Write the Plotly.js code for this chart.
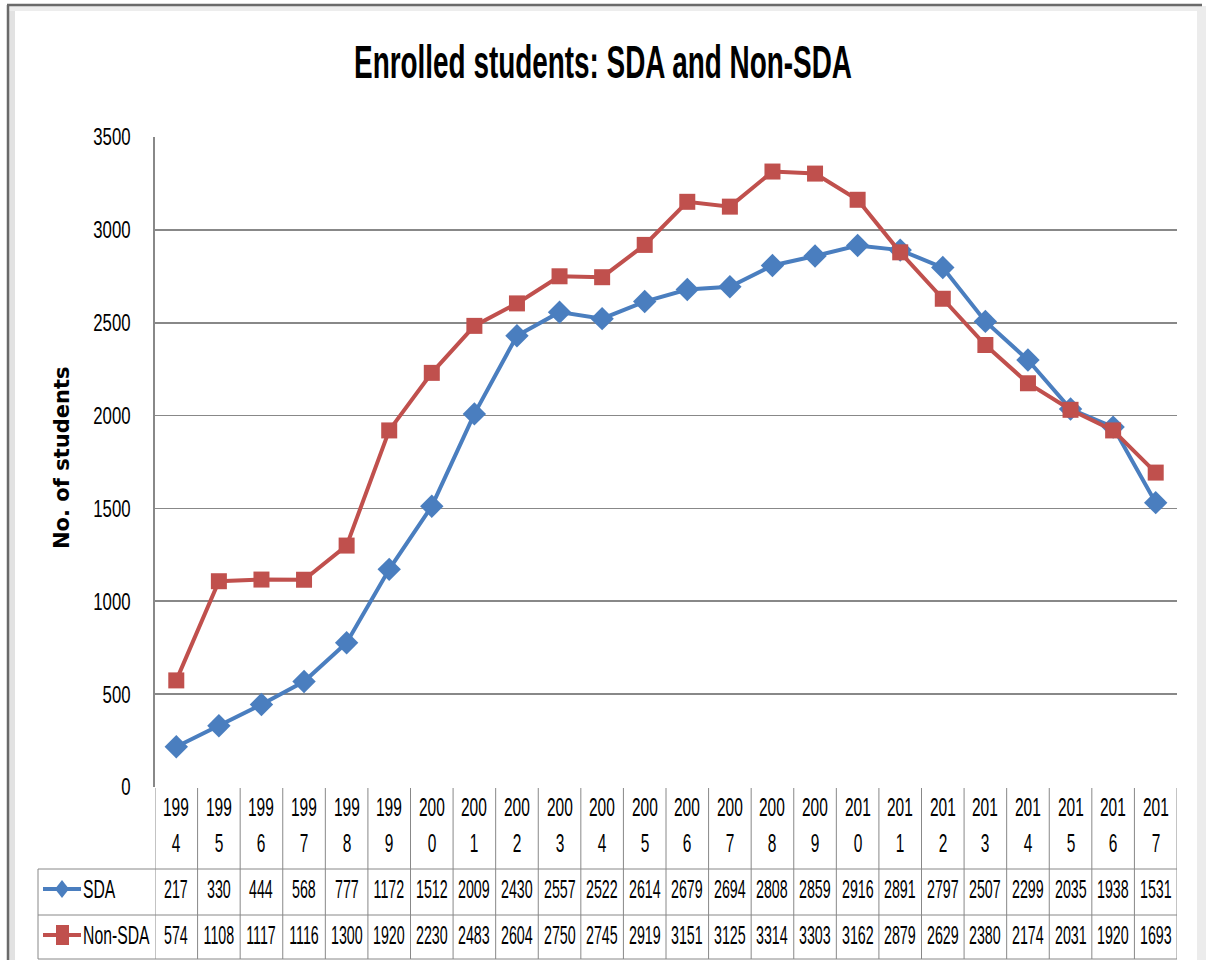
<!DOCTYPE html>
<html>
<head>
<meta charset="utf-8">
<script src="https://cdn.plot.ly/plotly-3.0.1.min.js"></script>
<style>html,body{margin:0;padding:0;background:#fff;}#chart{width:1206px;height:960px;}</style>
</head>
<body>
<div id="chart"></div>
<script>
const years = ["1994","1995","1996","1997","1998","1999","2000","2001","2002","2003","2004","2005","2006","2007","2008","2009","2010","2011","2012","2013","2014","2015","2016","2017"];
const sda = [217,330,444,568,777,1172,1512,2009,2430,2557,2522,2614,2679,2694,2808,2859,2916,2891,2797,2507,2299,2035,1938,1531];
const nonSda = [574,1108,1117,1116,1300,1920,2230,2483,2604,2750,2745,2919,3151,3125,3314,3303,3162,2879,2629,2380,2174,2031,1920,1693];
const seriesNames = ["SDA","Non-SDA"];
const yTicks = [0,500,1000,1500,2000,2500,3000,3500];
const chartTitle = "Enrolled students: SDA and Non-SDA";
const yTitle = "No. of students";

const W = 1206, H = 960;
const M = {l:155, r:29, t:137, b:173};
const PW = W - M.l - M.r, PH = H - M.t - M.b;
const px2x = px => (px - M.l) / PW;
const py2y = py => (H - M.b - py) / PH;

const blue = "#4A7EBF", red = "#C0504D";
const grid = "#888888";
const sans = "Liberation Sans, Arial, sans-serif";
const idx = years.map((_, i) => i);

const traces = [
  {x: idx, y: sda, name: seriesNames[0], type: "scatter", mode: "lines+markers",
   line: {color: blue, width: 4}, marker: {symbol: "diamond", size: 18, color: blue}},
  {x: idx, y: nonSda, name: seriesNames[1], type: "scatter", mode: "lines+markers",
   line: {color: red, width: 4}, marker: {symbol: "square", size: 16, color: red}}
];

const shapes = [];
const annotations = [];
const yHeadTop = py2y(788), yRow1 = py2y(869), yRow2 = py2y(915), yBot = py2y(959);
const xLeft = px2x(38);
for (let i = 0; i <= years.length; i++) {
  shapes.push({type: "line", xref: "x", yref: "paper", x0: i - 0.5, x1: i - 0.5, y0: yHeadTop, y1: yBot,
    line: {color: grid, width: 1}});
}
shapes.push({type: "line", xref: "paper", yref: "paper", x0: xLeft, x1: xLeft, y0: yRow1, y1: yBot, line: {color: grid, width: 1}});
[yRow1, yRow2, yBot].forEach(y => shapes.push({type: "line", xref: "paper", yref: "paper", x0: xLeft, x1: 1, y0: y, y1: y, line: {color: grid, width: 1}}));

const cellFont = {family: sans, size: 25, color: "#000"};
years.forEach((yr, i) => {
  annotations.push({x: i, y: py2y(807), xref: "x", yref: "paper", text: yr.slice(0, 3), showarrow: false,
    font: cellFont, yanchor: "middle", name: "hdr"});
  annotations.push({x: i, y: py2y(843), xref: "x", yref: "paper", text: yr.slice(3), showarrow: false,
    font: cellFont, yanchor: "middle", name: "hdr"});
  annotations.push({x: i, y: py2y(889), xref: "x", yref: "paper", text: String(sda[i]), showarrow: false,
    font: cellFont, yanchor: "middle", name: "val"});
  annotations.push({x: i, y: py2y(935), xref: "x", yref: "paper", text: String(nonSda[i]), showarrow: false,
    font: cellFont, yanchor: "middle", name: "val"});
});

const keyRows = [{py: 889, color: blue, sym: "diamond", name: seriesNames[0]}, {py: 935, color: red, sym: "square", name: seriesNames[1]}];
keyRows.forEach(k => {
  const yc = py2y(k.py);
  shapes.push({type: "line", xref: "paper", yref: "paper", x0: px2x(43), x1: px2x(81), y0: yc, y1: yc, line: {color: k.color, width: 4}});
  if (k.sym === "diamond") {
    const cx = px2x(62), dx = 7 / PW, dy = 9 / PH;
    shapes.push({type: "path", xref: "paper", yref: "paper",
      path: `M ${cx - dx} ${yc} L ${cx} ${yc + dy} L ${cx + dx} ${yc} L ${cx} ${yc - dy} Z`,
      fillcolor: k.color, line: {width: 0}});
  } else {
    shapes.push({type: "rect", xref: "paper", yref: "paper", x0: px2x(56), x1: px2x(69), y0: yc - 10 / PH, y1: yc + 10 / PH,
      fillcolor: k.color, line: {width: 0}});
  }
  annotations.push({x: px2x(81), y: yc, xref: "paper", yref: "paper", text: k.name, showarrow: false,
    xanchor: "left", yanchor: "middle", font: cellFont, name: "key"});
});

annotations.push({x: px2x(48), y: py2y(458), xref: "paper", yref: "paper", text: "<b>" + yTitle + "</b>", textangle: -90,
  showarrow: false, font: {family: "DejaVu Sans, Verdana, sans-serif", size: 21, color: "#000"}, name: "ytitle"});

// outer frame
shapes.push({type: "rect", xref: "paper", yref: "paper", x0: px2x(9), x1: px2x(15), y0: py2y(6), y1: py2y(960), fillcolor: "#E2E2E2", line: {width: 0}, layer: "below"});
shapes.push({type: "rect", xref: "paper", yref: "paper", x0: px2x(9), x1: px2x(1200), y0: py2y(6), y1: py2y(11), fillcolor: "#EDEDED", line: {width: 0}, layer: "below"});
shapes.push({type: "rect", xref: "paper", yref: "paper", x0: px2x(1197), x1: px2x(1206), y0: py2y(6), y1: py2y(960), fillcolor: "#ECECEC", line: {width: 0}, layer: "below"});
shapes.push({type: "line", xref: "paper", yref: "paper", x0: px2x(7), x1: px2x(1202), y0: py2y(5), y1: py2y(5), line: {color: "#6A6A6A", width: 2.5}});
shapes.push({type: "line", xref: "paper", yref: "paper", x0: px2x(8), x1: px2x(8), y0: py2y(5), y1: py2y(960), line: {color: "#6A6A6A", width: 2.5}});

const layout = {
  width: W, height: H,
  margin: M,
  paper_bgcolor: "#fff", plot_bgcolor: "#fff",
  showlegend: false,
  title: {text: "<b>" + chartTitle + "</b>", x: 0.5, xref: "container", xanchor: "center",
    y: 1 - 62 / H, yref: "container", yanchor: "middle",
    font: {family: sans, size: 46, color: "#000"}},
  xaxis: {range: [-0.5, years.length - 0.5], showticklabels: false, showgrid: false, zeroline: false,
    showline: false, ticks: "", fixedrange: true},
  yaxis: {range: [0, 3500], tickvals: yTicks, showgrid: true, gridcolor: grid, gridwidth: 1.6,
    zeroline: false, showline: true, linecolor: grid, linewidth: 1.6, ticks: "", ticklen: 0,
    tickfont: {family: sans, size: 24, color: "#000"}, ticklabelstandoff: 18, automargin: false},
  shapes: shapes,
  annotations: annotations
};

// condense text horizontally (the reference uses a narrow, tall face)
function condense(el, s, anchor) {
  const b = el.getBBox();
  const ax = anchor === "end" ? b.x + b.width : anchor === "start" ? b.x : b.x + b.width / 2;
  const t = el.getAttribute("transform") || "";
  el.setAttribute("transform", t + ` translate(${ax} 0) scale(${s} 1) translate(${-ax} 0)`);
}

Plotly.newPlot("chart", traces, layout, {displayModeBar: false, staticPlot: true}).then(gd => {
  const title = gd.querySelector("text.gtitle");
  if (title) {
    const b = title.getBBox();
    condense(title, 498 / b.width, "middle");
  }
  gd.querySelectorAll("g.ytick text").forEach(t => condense(t, 0.7, "end"));
  const anns = gd.querySelectorAll("g.annotation");
  anns.forEach((g, i) => {
    const a = layout.annotations[i];
    const t = g.querySelector("text.annotation-text");
    if (!a || !t) return;
    if (a.name === "hdr") condense(t, 0.62, "middle");
    else if (a.name === "val") condense(t, 0.57, "middle");
    else if (a.name === "key") condense(t, 0.63, "start");
  });
});
</script>
</body>
</html>
